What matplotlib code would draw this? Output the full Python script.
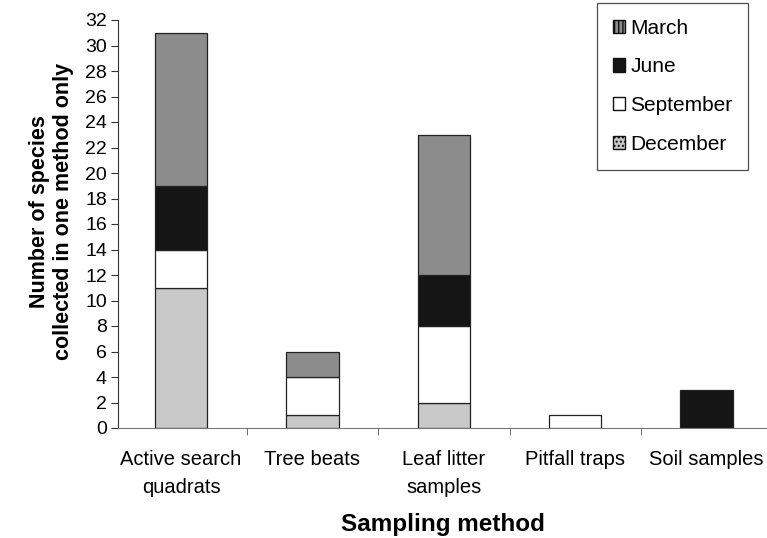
import matplotlib.pyplot as plt
from matplotlib.patches import Patch
import numpy as np

plt.rcParams['font.family'] = ['Liberation Sans', 'DejaVu Sans']

methods = ["Active search\nquadrats", "Tree beats", "Leaf litter\nsamples",
           "Pitfall traps", "Soil samples"]
december = [11, 1, 2, 0, 0]
september = [3, 3, 6, 1, 0]
june = [5, 0, 4, 0, 3]
march = [12, 2, 11, 0, 0]

series = [
    ("December", december, "#c9c9c9"),
    ("September", september, "white"),
    ("June", june, "#151515"),
    ("March", march, "#8c8c8c"),
]

fig = plt.figure(figsize=(7.67, 5.38), dpi=100)
ax = fig.add_axes([118 / 767, 110 / 538, 649 / 767, 408 / 538])

x = np.arange(len(methods))
bottom = np.zeros(len(methods))
for name, vals, col in series:
    vals = np.array(vals, dtype=float)
    # skip zero-height segments so no stray outline sits on the baseline
    mask = vals > 0
    ax.bar(x[mask], vals[mask], 0.40, bottom=bottom[mask], color=col,
           edgecolor="#222222", linewidth=0.9)
    bottom += vals

ax.set_xlim(-0.48, 4.46)
ax.set_ylim(0, 32)
ax.set_yticks(range(0, 33, 2))
ax.set_xticks(x)
ax.set_xticklabels(methods, fontsize=14.5, linespacing=1.6)
ax.set_xticks(np.arange(0.5, 4.5, 1), minor=True)
ax.tick_params(axis="x", which="major", length=0, pad=16)
ax.tick_params(axis="x", which="minor", length=5, direction="out", color="#555555")
ax.tick_params(axis="y", length=5, direction="out", labelsize=14, pad=3, color="#333333")

for s in ["top", "right"]:
    ax.spines[s].set_visible(False)
ax.spines["left"].set_color("#333333")
ax.spines["bottom"].set_color("#777777")

ax.set_ylabel("Number of species\ncollected in one method only",
              fontsize=15.5, fontweight="bold", labelpad=8, linespacing=1.2)
ax.yaxis.label.set_y(0.53)
ax.set_xlabel("Sampling method", fontsize=17.5, fontweight="bold", labelpad=11)

handles = [
    Patch(facecolor="#8c8c8c", edgecolor="#111111", hatch="||||", label="March"),
    Patch(facecolor="#151515", edgecolor="#111111", label="June"),
    Patch(facecolor="white", edgecolor="#111111", label="September"),
    Patch(facecolor="#c9c9c9", edgecolor="#111111", hatch="....", label="December"),
]
leg = ax.legend(handles=handles, loc="upper left",
                bbox_to_anchor=(597 / 767, 1 - 3 / 538), bbox_transform=fig.transFigure,
                fontsize=15, frameon=True, fancybox=False, edgecolor="#222222",
                handlelength=0.6, handleheight=0.6, handletextpad=0.25,
                labelspacing=0.95, borderpad=0.75, borderaxespad=0)
leg.get_frame().set_linewidth(0.9)

fig.savefig("out.png", dpi=100)
